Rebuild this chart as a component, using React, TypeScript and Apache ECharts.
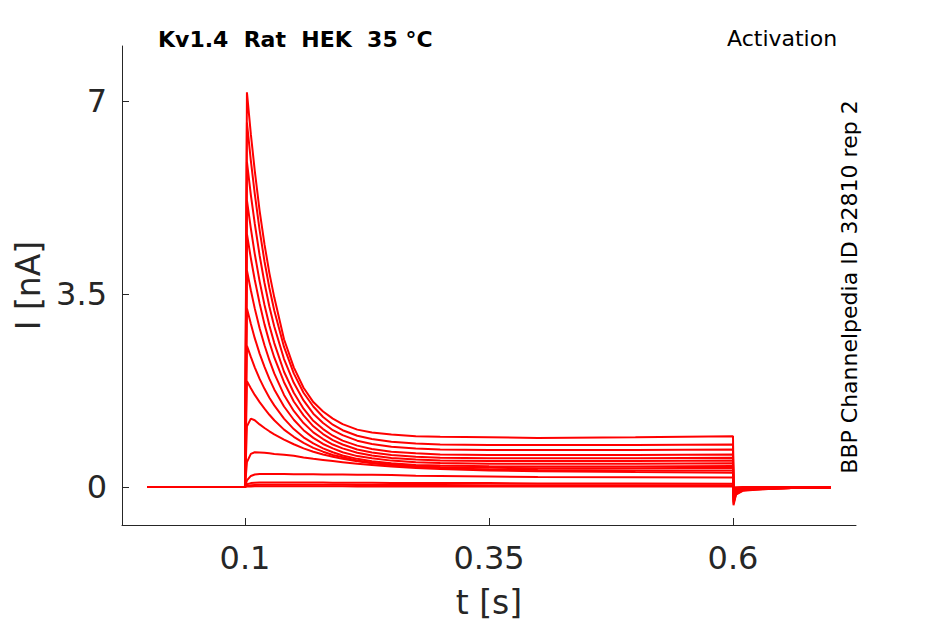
import React, { useEffect, useRef } from "react";
import * as echarts from "echarts";

// time samples [s]
const T = [0, 0.1, 0.102, 0.106, 0.11, 0.115, 0.12, 0.125, 0.13, 0.14, 0.15, 0.16, 0.17, 0.18, 0.19, 0.2, 0.215, 0.23, 0.25, 0.275, 0.3, 0.35, 0.4, 0.5, 0.6, 0.6005, 0.603, 0.61, 0.63, 0.66, 0.7];

// current traces [nA], one per voltage step
const tr1 = [0, 0, 7.16, 6.40, 5.74, 5.01, 4.40, 3.88, 3.44, 2.68, 2.17, 1.80, 1.54, 1.37, 1.24, 1.14, 1.04, 0.99, 0.95, 0.92, 0.91, 0.90, 0.89, 0.90, 0.92, -0.33, -0.14, -0.07, -0.04, -0.02, -0.01];
const tr2 = [0, 0, 6.61, 5.92, 5.32, 4.66, 4.09, 3.61, 3.20, 2.54, 2.06, 1.71, 1.46, 1.27, 1.13, 1.03, 0.93, 0.87, 0.82, 0.79, 0.77, 0.76, 0.76, 0.76, 0.77, -0.30, -0.13, -0.06, -0.04, -0.02, -0.01];
const tr3 = [0, 0, 5.90, 5.30, 4.78, 4.20, 3.70, 3.27, 2.91, 2.32, 1.89, 1.57, 1.33, 1.16, 1.03, 0.94, 0.84, 0.78, 0.73, 0.70, 0.68, 0.67, 0.67, 0.67, 0.68, -0.27, -0.12, -0.06, -0.03, -0.02, -0.01];
const tr4 = [0, 0, 5.20, 4.69, 4.23, 3.73, 3.30, 2.93, 2.61, 2.09, 1.71, 1.42, 1.20, 1.05, 0.93, 0.84, 0.75, 0.69, 0.64, 0.61, 0.59, 0.58, 0.58, 0.58, 0.59, -0.24, -0.11, -0.05, -0.03, -0.02, -0.01];
const tr5 = [0, 0, 4.59, 4.15, 3.76, 3.33, 2.95, 2.63, 2.35, 1.90, 1.55, 1.30, 1.10, 0.96, 0.85, 0.77, 0.68, 0.625, 0.58, 0.55, 0.53, 0.52, 0.52, 0.52, 0.53, -0.21, -0.10, -0.05, -0.03, -0.02, -0.01];
const tr6 = [0, 0, 3.93, 3.57, 3.24, 2.88, 2.57, 2.30, 2.06, 1.67, 1.38, 1.16, 0.99, 0.87, 0.77, 0.70, 0.62, 0.57, 0.527, 0.50, 0.48, 0.47, 0.47, 0.47, 0.48, -0.18, -0.09, -0.04, -0.03, -0.02, -0.01];
const tr7 = [0, 0, 3.24, 2.96, 2.70, 2.42, 2.18, 1.96, 1.77, 1.46, 1.22, 1.03, 0.89, 0.78, 0.70, 0.63, 0.56, 0.52, 0.478, 0.45, 0.435, 0.42, 0.42, 0.42, 0.43, -0.15, -0.08, -0.04, -0.02, -0.01, -0.01];
const tr8 = [0, 0, 2.56, 2.36, 2.17, 1.96, 1.78, 1.62, 1.48, 1.24, 1.05, 0.90, 0.79, 0.70, 0.63, 0.57, 0.51, 0.467, 0.429, 0.40, 0.39, 0.375, 0.37, 0.37, 0.38, -0.12, -0.07, -0.04, -0.02, -0.01, -0.01];
const tr9 = [0, 0, 1.92, 1.79, 1.67, 1.54, 1.42, 1.31, 1.21, 1.04, 0.91, 0.80, 0.71, 0.64, 0.58, 0.54, 0.48, 0.44, 0.408, 0.38, 0.363, 0.348, 0.34, 0.34, 0.35, -0.10, -0.06, -0.03, -0.02, -0.01, -0.01];
const tr10 = [0, 0, 1.10, 1.24, 1.21, 1.135, 1.07, 1.01, 0.955, 0.86, 0.775, 0.70, 0.64, 0.59, 0.55, 0.51, 0.466, 0.43, 0.395, 0.363, 0.342, 0.319, 0.308, 0.30, 0.30, -0.08, -0.05, -0.03, -0.02, -0.01, 0];
const tr11 = [0, 0, 0.45, 0.60, 0.63, 0.625, 0.62, 0.61, 0.60, 0.585, 0.565, 0.535, 0.51, 0.49, 0.47, 0.45, 0.42, 0.40, 0.37, 0.345, 0.325, 0.30, 0.285, 0.27, 0.26, -0.06, -0.04, -0.02, -0.01, -0.01, 0];
const tr12 = [0, 0, 0.12, 0.20, 0.225, 0.235, 0.235, 0.235, 0.235, 0.235, 0.23, 0.23, 0.23, 0.225, 0.225, 0.225, 0.22, 0.22, 0.215, 0.205, 0.20, 0.19, 0.18, 0.175, 0.17, -0.04, -0.03, -0.02, -0.01, 0, 0];
const tr13 = [0, 0, 0.05, 0.07, 0.075, 0.08, 0.08, 0.08, 0.08, 0.08, 0.08, 0.08, 0.08, 0.08, 0.075, 0.075, 0.075, 0.075, 0.07, 0.07, 0.07, 0.07, 0.065, 0.065, 0.06, -0.03, -0.02, -0.01, -0.01, 0, 0];
const tr14 = [0, 0, 0.02, 0.03, 0.035, 0.04, 0.04, 0.04, 0.04, 0.04, 0.04, 0.04, 0.04, 0.04, 0.04, 0.04, 0.035, 0.035, 0.035, 0.035, 0.035, 0.03, 0.03, 0.03, 0.03, -0.02, -0.01, -0.01, 0, 0, 0];
const tr15 = [0, 0, 0.01, 0.01, 0.015, 0.015, 0.015, 0.015, 0.015, 0.015, 0.015, 0.015, 0.015, 0.015, 0.015, 0.015, 0.01, 0.01, 0.01, 0.01, 0.01, 0.01, 0.01, 0.01, 0.01, -0.01, -0.01, 0, 0, 0, 0];

const traces = [tr1, tr2, tr3, tr4, tr5, tr6, tr7, tr8, tr9, tr10, tr11, tr12, tr13, tr14, tr15];

const xTicks = [0.1, 0.35, 0.6];
const yTicks = [0, 3.5, 7];

const TITLE = "Kv1.4  Rat  HEK  35 °C";
const PROTOCOL = "Activation";
const SOURCE = "BBP Channelpedia ID 32810 rep 2";

const AXIS_COLOR = "#262626";
const FONT = "DejaVu Sans";

export default function App() {
  const ref = useRef<HTMLDivElement>(null);
  useEffect(() => {
    if (!ref.current) return;
    const chart = echarts.init(ref.current, undefined, { renderer: "svg" });
    const series = traces.map((tr, i) => ({
      type: "line",
      name: "trace" + (i + 1),
      data: T.map((t, j) => [t, tr[j]]),
      showSymbol: false,
      smooth: false,
      lineStyle: { color: "#ff0000", width: 2 },
      z: 2,
    }));
    chart.setOption({
      animation: false,
      backgroundColor: "#ffffff",
      grid: { left: 122, right: 89, top: 46, bottom: 97, containLabel: false },
      xAxis: {
        type: "value",
        min: -0.026,
        max: 0.726,
        name: "t [s]",
        nameLocation: "middle",
        nameGap: 61,
        nameTextStyle: { fontFamily: FONT, fontSize: 33, color: AXIS_COLOR },
        axisLine: { show: true, onZero: false, lineStyle: { color: AXIS_COLOR, width: 1 } },
        axisTick: { show: true, inside: true, length: 7, customValues: xTicks, lineStyle: { color: AXIS_COLOR } },
        axisLabel: {
          customValues: xTicks,
          fontFamily: FONT,
          fontSize: 32,
          color: AXIS_COLOR,
          margin: 17,
          formatter: (v: number) => String(v),
        },
        splitLine: { show: false },
      },
      yAxis: {
        type: "value",
        min: -0.69,
        max: 8,
        name: "I [nA]",
        nameLocation: "middle",
        nameGap: 58,
        nameRotate: 90,
        nameTextStyle: { fontFamily: FONT, fontSize: 33, color: AXIS_COLOR },
        axisLine: { show: true, onZero: false, lineStyle: { color: AXIS_COLOR, width: 1 } },
        axisTick: { show: true, inside: true, length: 7, customValues: yTicks, lineStyle: { color: AXIS_COLOR } },
        axisLabel: {
          customValues: yTicks,
          fontFamily: FONT,
          fontSize: 32,
          color: AXIS_COLOR,
          margin: 15,
          formatter: (v: number) => String(v),
        },
        splitLine: { show: false },
      },
      graphic: [
        {
          type: "text",
          left: 158,
          top: 28,
          style: { text: TITLE, fontFamily: FONT, fontSize: 22, fontWeight: "bold", fill: "#000000" },
        },
        {
          type: "text",
          left: 727,
          top: 27,
          style: { text: PROTOCOL, fontFamily: FONT, fontSize: 22, fill: "#000000" },
        },
        {
          type: "text",
          x: 849,
          y: 287,
          rotation: Math.PI / 2,
          style: {
            text: SOURCE,
            fontFamily: FONT,
            fontSize: 22,
            fill: "#000000",
            align: "center",
            verticalAlign: "middle",
          },
        },
      ],
      series,
    });
    return () => chart.dispose();
  }, []);
  return (
    <div
      ref={ref}
      style={{ position: "fixed", left: 0, top: 0, width: 945, height: 624, background: "#fff" }}
    />
  );
}
